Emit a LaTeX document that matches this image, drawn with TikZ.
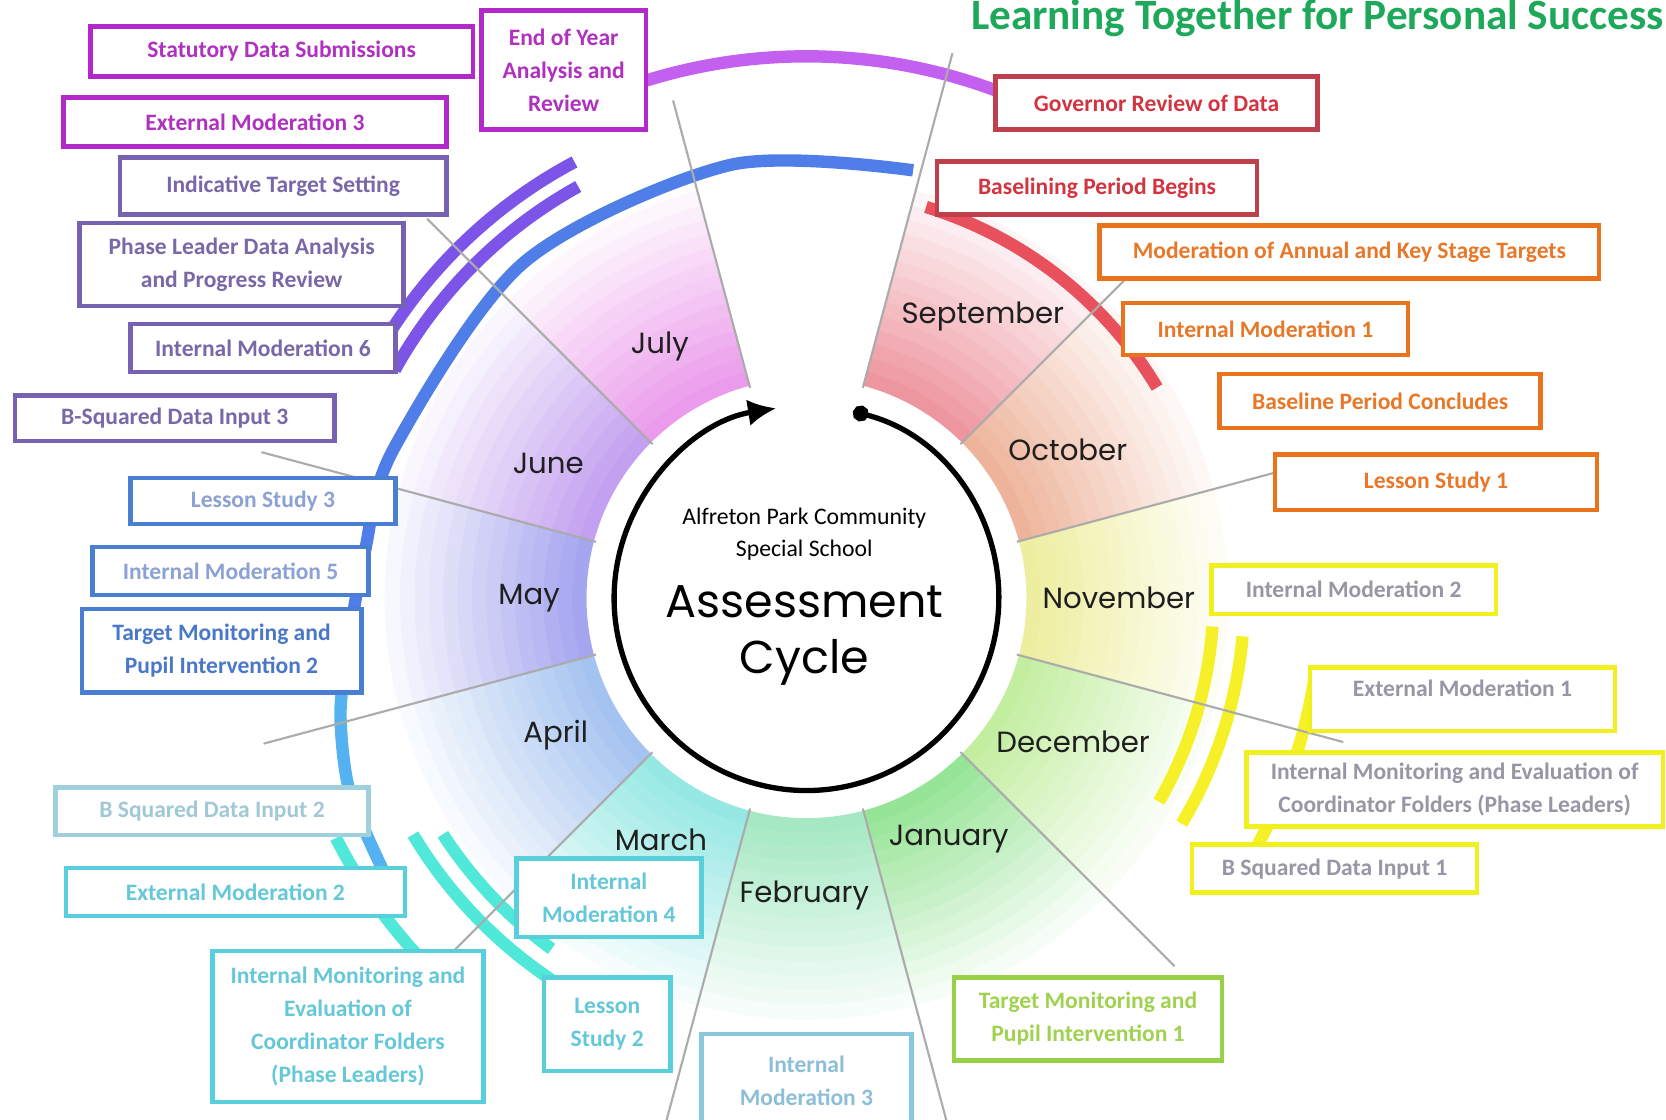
\documentclass[tikz,border=0pt]{standalone}
\usepackage{fontspec}
\setmainfont{Carlito}
\newfontfamily\roundfont{Poppins}
\usetikzlibrary{arrows.meta}

% box frames and texts
\definecolor{magbox}{RGB}{178,40,200}
\definecolor{magtxt}{RGB}{176,48,192}
\definecolor{purbox}{RGB}{118,98,176}
\definecolor{purtxt}{RGB}{120,104,168}
\definecolor{blubox}{RGB}{74,126,208}
\definecolor{blutxt}{RGB}{140,162,212}
\definecolor{bludark}{RGB}{74,120,200}
\definecolor{pcybox}{RGB}{160,208,220}
\definecolor{pcytxt}{RGB}{160,200,215}
\definecolor{cyabox}{RGB}{88,208,220}
\definecolor{cyatxt}{RGB}{100,200,215}
\definecolor{ltbbox}{RGB}{136,200,220}
\definecolor{ltbtxt}{RGB}{140,190,215}
\definecolor{grnbox}{RGB}{152,208,72}
\definecolor{grntxt}{RGB}{160,210,80}
\definecolor{yelbox}{RGB}{240,240,30}
\definecolor{yeltxt}{RGB}{150,150,165}
\definecolor{orabox}{RGB}{232,115,28}
\definecolor{oratxt}{RGB}{232,120,40}
\definecolor{redbox}{RGB}{190,64,76}
\definecolor{redtxt}{RGB}{210,52,64}
\definecolor{titlegreen}{RGB}{30,168,90}
% bands
\definecolor{magarc}{RGB}{196,96,240}
\definecolor{vioarc}{RGB}{124,84,232}
\definecolor{bluarc}{RGB}{80,126,232}
\definecolor{skyarc}{RGB}{84,178,240}
\definecolor{aquarc}{RGB}{80,232,216}
\definecolor{redarc}{RGB}{232,80,92}
\definecolor{yelarc}{RGB}{245,240,40}
% months
\definecolor{sepc}{RGB}{238,150,160}
\definecolor{octc}{RGB}{238,180,155}
\definecolor{novc}{RGB}{238,238,160}
\definecolor{decc}{RGB}{195,238,160}
\definecolor{janc}{RGB}{150,228,150}
\definecolor{febc}{RGB}{165,232,195}
\definecolor{marc}{RGB}{150,232,228}
\definecolor{aprc}{RGB}{165,195,240}
\definecolor{mayc}{RGB}{165,165,240}
\definecolor{junc}{RGB}{195,160,240}
\definecolor{julc}{RGB}{235,155,235}

\begin{document}
\begin{tikzpicture}[x=0.6pt,y=0.6pt,
                    evt/.style={draw, fill=white, line width=2.6pt, align=center, inner sep=0pt,
                                font=\fontsize{13.3}{18.6}\selectfont\bfseries},
                    sz/.style 2 args={minimum width=#1*0.6pt, minimum height=#2*0.6pt},
                    month/.style={font=\roundfont\fontsize{16.5}{20}\selectfont, text=black!88},
                    band/.style={line width=7pt},
                    divline/.style={draw=black!33, line width=1.2pt},
                    cyclearrow/.style={line width=3pt, {Circle[length=9pt]}-{Latex[length=16pt,width=15pt]}}]
\useasboundingbox (0,0) rectangle (1568,-1054);
\clip (0,0) rectangle (1568,-1054);

\begin{scope}[shift={(759,-563)}]
  % month wedges, fading outwards
  \foreach \ang/\col in {60/sepc,30/octc,0/novc,-30/decc,-60/janc,-90/febc,
                         -120/marc,-150/aprc,180/mayc,150/junc,120/julc}{
    \pgfmathsetmacro\sa{\ang-15}
    \pgfmathsetmacro\ea{\ang+15}
    \foreach \k in {0,...,13}{
      \pgfmathsetmacro\ra{207+13.5*\k}
      \pgfmathsetmacro\rb{\ra+14.5}
      \pgfmathtruncatemacro\pc{100-7*\k}
      \fill[\col!\pc!white] (\sa:\ra) arc[start angle=\sa, end angle=\ea, radius=\ra]
        -- (\ea:\rb) arc[start angle=\ea, end angle=\sa, radius=\rb] -- cycle;
    }
  }

  % coloured bands
  \draw[band, magarc] (69:510) arc[start angle=69, end angle=108, radius=510];
  \draw[band, vioarc] (118:465) arc[start angle=118, end angle=150, radius=465];
  \draw[band, vioarc] (119:443) arc[start angle=119, end angle=151, radius=443];
  \draw[band, bluarc] plot[smooth] coordinates {(76:415) (100:414) (130:413) (160:413) (174:418) (186:434)};
  \draw[band, skyarc] plot[smooth] coordinates {(186:434) (194:452) (203:467) (213:474)};
  \draw[band, aquarc] (207:497) arc[start angle=207, end angle=223, radius=497];
  \draw[band, aquarc] (211:432) arc[start angle=211, end angle=239, radius=432];
  \draw[band, aquarc] (213:408) arc[start angle=213, end angle=234, radius=408];
  \draw[band, redarc] (73:385) arc[start angle=73, end angle=31, radius=385];
  \draw[band, yelarc] (-4:383) arc[start angle=-4, end angle=-30, radius=383];
  \draw[band, yelarc] (-5:412) arc[start angle=-5, end angle=-31, radius=412];
  \draw[band, yelarc] (-8:484) arc[start angle=-8, end angle=-29, radius=484];

  % dividers between months
  \foreach \a/\r in {15/456,45/424,75/531,105/485,135/505,165/531,
                     195/529,225/480,255/540,285/540,315/490,345/523}
    \draw[divline] (\a:205) -- (\a:\r);

  % cycle arrow
  \draw[cyclearrow] (76:181) arc[start angle=76, end angle=-261, radius=181];
\end{scope}

\node[anchor=base, font=\fontsize{24.4}{28}\selectfont\bfseries, text=titlegreen] (title) at (1240,-28)
  {Learning Together for Personal Success};

\node[font=\fontsize{13.4}{18}\selectfont, align=center] (school) at (757,-503)
  {Alfreton Park Community\\Special School};
\node[font=\roundfont\fontsize{26}{32}\selectfont, align=center] (acyc) at (757,-598)
  {Assessment\\Cycle};

% months
\node[month] (msep) at (925,-298) {September};
\node[month] (moct) at (1005,-423) {October};
\node[month] (mnov) at (1053,-563) {November};
\node[month] (mdec) at (1010,-698) {December};
\node[month] (mjan) at (893,-790) {January};
\node[month] (mfeb) at (757,-843) {February};
\node[month] (mmar) at (622,-790) {March};
\node[month] (mapr) at (523,-692) {April};
\node[month] (mmay) at (498,-563) {May};
\node[month] (mjun) at (516,-436) {June};
\node[month] (mjul) at (621,-326) {July};

% summer term
\node[evt, sz={360}{47}, draw=magbox, text=magtxt] (stat) at (265,-48.5) {Statutory Data Submissions};
\node[evt, sz={155}{112}, draw=magbox, text=magtxt] (eoy) at (530.5,-66) {End of Year\\Analysis and\\Review};
\node[evt, sz={360}{46}, draw=magbox, text=magtxt] (ext3) at (240,-115) {External Moderation 3};
\node[evt, sz={307}{54}, draw=purbox, text=purtxt] (its) at (266.5,-175) {Indicative Target Setting};
\node[evt, sz={305}{78}, draw=purbox, text=purtxt] (pld) at (227.5,-249) {Phase Leader Data Analysis\\and Progress Review};
\node[evt, sz={249}{45}, draw=purbox, text=purtxt] (im6) at (247.5,-327.5) {Internal Moderation 6};
\node[evt, sz={301}{43}, draw=purbox, text=purtxt] (bsq3) at (164.5,-393.5) {B-Squared Data Input 3};
\node[evt, sz={249}{43}, draw=blubox, text=blutxt] (ls3) at (247.5,-471.5) {Lesson Study 3};
\node[evt, sz={260}{45}, draw=blubox, text=blutxt] (im5) at (217,-537.5) {Internal Moderation 5};
\node[evt, sz={263}{79}, draw=blubox, text=bludark] (tm2) at (208.5,-612.5) {Target Monitoring and\\Pupil Intervention 2};

% spring term
\node[evt, sz={295}{45}, draw=pcybox, text=pcytxt] (bsq2) at (199.5,-763.5) {B Squared Data Input 2};
\node[evt, sz={319}{45}, draw=cyabox, text=cyatxt] (ext2) at (221.5,-839.5) {External Moderation 2};
\node[evt, sz={255}{142}, draw=cyabox, text=cyatxt] (imefl) at (327.5,-966)
  {Internal Monitoring and\\Evaluation of\\Coordinator Folders\\(Phase Leaders)};
\node[evt, sz={174}{74}, draw=cyabox, text=cyatxt] (im4) at (573,-845) {Internal\\Moderation 4};
\node[evt, sz={119}{88}, draw=cyabox, text=cyatxt] (ls2) at (571.5,-964) {Lesson\\Study 2};
\node[evt, sz={198}{88}, draw=ltbbox, text=ltbtxt] (im3) at (759,-1017) {Internal\\Moderation 3};
\node[evt, sz={252}{78}, draw=grnbox, text=grntxt] (tm1) at (1024,-959) {Target Monitoring and\\Pupil Intervention 1};

% autumn term
\node[evt, sz={268}{45}, draw=yelbox, text=yeltxt] (bsq1) at (1256,-817.5) {B Squared Data Input 1};
\node[evt, sz={392}{70}, draw=yelbox, text=yeltxt] (imefr) at (1369,-743)
  {Internal Monitoring and Evaluation of\\Coordinator Folders (Phase Leaders)};
\node[evt, sz={287}{60}, draw=yelbox, text=yeltxt, text depth=12pt] (ext1) at (1376.5,-658) {External Moderation 1};
\node[evt, sz={268}{46}, draw=yelbox, text=yeltxt] (im2) at (1274,-555) {Internal Moderation 2};
\node[evt, sz={303}{52}, draw=orabox, text=oratxt] (ls1) at (1351.5,-454) {Lesson Study 1};
\node[evt, sz={302}{51}, draw=orabox, text=oratxt] (bpc) at (1299,-377.5) {Baseline Period Concludes};
\node[evt, sz={268}{49}, draw=orabox, text=oratxt] (im1) at (1191,-309.5) {Internal Moderation 1};
\node[evt, sz={470}{50}, draw=orabox, text=oratxt] (makt) at (1270,-237) {Moderation of Annual and Key Stage Targets};
\node[evt, sz={301}{50}, draw=redbox, text=redtxt] (bpb) at (1032.5,-177) {Baselining Period Begins};
\node[evt, sz={303}{50}, draw=redbox, text=redtxt] (gov) at (1088.5,-97) {Governor Review of Data};
\end{tikzpicture}
\end{document}
